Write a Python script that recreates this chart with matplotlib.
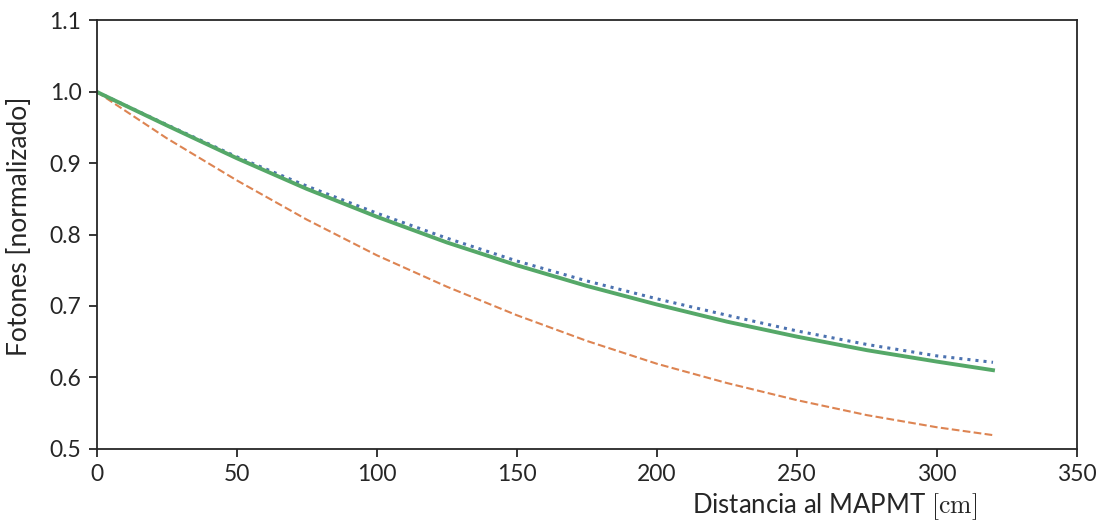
import matplotlib
matplotlib.use("Agg")
import matplotlib.pyplot as plt

distance = [0, 25, 50, 75, 100, 125, 150, 175, 200, 225, 250, 275, 300, 320]
blue_dotted = [1.0, 0.954, 0.909, 0.868, 0.830, 0.795, 0.763, 0.735, 0.710, 0.687, 0.665, 0.646, 0.630, 0.621]
orange_dashed = [1.0, 0.935, 0.876, 0.821, 0.771, 0.727, 0.687, 0.651, 0.619, 0.592, 0.568, 0.547, 0.530, 0.519]
green_solid = [1.0, 0.953, 0.907, 0.864, 0.825, 0.789, 0.757, 0.728, 0.702, 0.678, 0.657, 0.638, 0.622, 0.610]

xticks = [0, 50, 100, 150, 200, 250, 300, 350]
yticks = [0.5, 0.6, 0.7, 0.8, 0.9, 1.0, 1.1]

plt.rcParams['font.family'] = ['Lato', 'DejaVu Sans']
plt.rcParams['mathtext.fontset'] = 'cm'

fig = plt.figure(figsize=(10.99, 5.21), dpi=100)
ax = fig.add_axes([0.088, 0.1388, 0.892, 0.8219])

ax.plot(distance, blue_dotted, color='#4C72B0', linestyle=':', linewidth=2.2)
ax.plot(distance, orange_dashed, color='#DD8452', linestyle='--', linewidth=1.5)
ax.plot(distance, green_solid, color='#55A868', linestyle='-', linewidth=2.8)

ax.set_xlim(0, 350)
ax.set_ylim(0.5, 1.1)
ax.set_xticks(xticks)
ax.set_yticks(yticks)
ax.set_xticklabels([str(t) for t in xticks])
ax.set_yticklabels([f"{t:.1f}" for t in yticks])

for s in ax.spines.values():
    s.set_linewidth(1.3)
    s.set_color('#262626')
ax.tick_params(axis='both', direction='out', length=6, width=1.3, color='#262626',
               labelsize=16.5, labelcolor='#262626', pad=5)

ax.set_xlabel(r"Distancia al MAPMT $[\mathrm{cm}]$", fontsize=18.5, color='#262626', ha='right')
ax.xaxis.set_label_coords(0.898, -0.1)
ax.set_ylabel("Fotones [normalizado]", fontsize=19, color='#262626')
ax.yaxis.set_label_coords(-0.066, 0.52)

fig.savefig("out.png", dpi=100)
